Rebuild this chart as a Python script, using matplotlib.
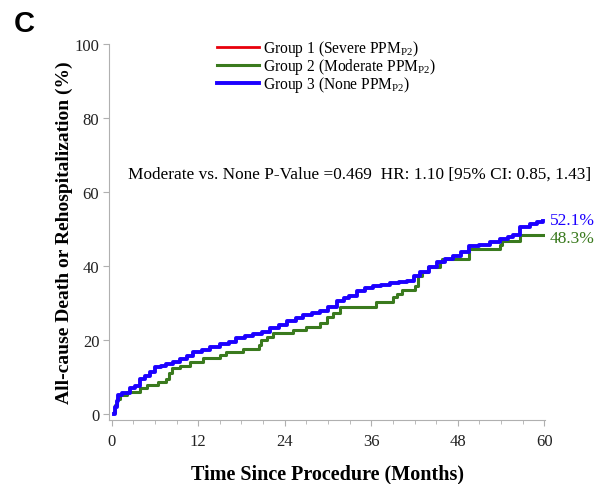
import matplotlib.pyplot as plt
from matplotlib.ticker import MultipleLocator

# Kaplan-Meier style cumulative incidence (%)
green_t = [0.3, 0.5, 0.8, 1.2, 2.1, 3.9, 4.9, 6.4, 7.6, 8.0, 8.3, 9.5, 10.9, 12.7,
           15.0, 15.9, 18.2, 20.4, 20.7, 21.5, 22.4, 25.1, 27.0, 28.9, 29.8, 30.7,
           31.7, 36.6, 39.0, 39.5, 40.2, 42.1, 42.5, 43.0, 43.9, 45.5, 45.8, 49.6,
           53.8, 54.1, 56.6, 60.0]
green_v = [0.5, 2.5, 4.0, 5.2, 6.0, 7.0, 7.8, 8.6, 9.5, 11.2, 12.4, 13.0, 14.2, 15.2,
           16.0, 16.7, 17.5, 18.8, 20.0, 20.8, 22.0, 22.6, 23.5, 24.5, 26.2, 27.4,
           29.0, 30.4, 31.6, 32.5, 33.6, 34.7, 37.4, 38.3, 39.7, 41.1, 42.0, 44.6,
           45.6, 46.8, 48.3, 48.3]

blue_t = [0.3, 0.5, 0.7, 0.9, 1.5, 2.5, 3.2, 3.9, 4.6, 5.3, 6.0, 6.8, 7.6, 8.5, 9.5,
          10.4, 11.3, 12.5, 13.7, 15.0, 16.3, 17.3, 18.5, 19.6, 20.8, 22.0, 23.2,
          24.3, 25.5, 26.6, 27.8, 28.9, 30.0, 31.2, 32.2, 32.9, 34.0, 35.1, 36.2,
          37.4, 38.6, 39.8, 40.9, 41.9, 42.8, 44.0, 45.1, 46.2, 47.4, 48.5, 49.6,
          51.0, 52.5, 53.8, 55.0, 55.7, 56.6, 58.0, 59.0, 59.8]
blue_v = [0.0, 2.0, 3.5, 5.1, 5.8, 7.0, 7.6, 9.5, 10.3, 11.3, 12.7, 13.0, 13.5, 14.2,
          14.9, 15.8, 16.7, 17.3, 18.0, 19.0, 19.5, 20.5, 21.0, 21.6, 22.3, 23.2,
          24.2, 25.2, 26.0, 26.8, 27.4, 27.9, 29.0, 30.6, 31.3, 32.0, 33.3, 34.0,
          34.6, 35.0, 35.4, 35.7, 36.0, 37.2, 38.3, 39.8, 41.0, 41.9, 42.6, 43.8,
          45.3, 45.8, 46.5, 47.3, 47.8, 48.3, 50.5, 51.4, 51.8, 52.1]

labels = ['Group 1 (Severe PPM$_{\\mathregular{P2}}$)',
          'Group 2 (Moderate PPM$_{\\mathregular{P2}}$)',
          'Group 3 (None PPM$_{\\mathregular{P2}}$)']

plt.rcParams['font.family'] = ['Liberation Serif', 'DejaVu Serif']
plt.rcParams['mathtext.fontset'] = 'custom'
plt.rcParams['mathtext.rm'] = 'Liberation Serif'

fig = plt.figure(figsize=(6.09, 4.85), dpi=100)
ax = fig.add_axes([0.179, 0.132, 0.716, 0.775])

red = '#e8000b'
green = '#3a7a1e'
blue = '#1c00ff'

ax.plot([], [], color=red, lw=2, label=labels[0])
ax.plot(green_t, green_v, color=green, lw=2.2, drawstyle='steps-post', label=labels[1])
ax.plot(blue_t, blue_v, color=blue, lw=2.8, drawstyle='steps-post', label=labels[2])

ax.set_xlim(-0.37, 60.1)
ax.set_ylim(-1.6, 100)
ax.xaxis.set_major_locator(MultipleLocator(12))
ax.xaxis.set_minor_locator(MultipleLocator(3))
ax.yaxis.set_major_locator(MultipleLocator(20))

for s in ['top', 'right']:
    ax.spines[s].set_visible(False)
for s in ['left', 'bottom']:
    ax.spines[s].set_color('#b0b0b0')
ax.tick_params(axis='both', which='both', colors='#b0b0b0', labelcolor='#222222',
               labelsize=12)
ax.tick_params(axis='x', which='major', length=4.5, pad=5)
ax.tick_params(axis='x', which='minor', length=3)
ax.tick_params(axis='y', length=4, pad=3)

ax.set_xlabel('Time Since Procedure (Months)', fontsize=14.5, fontweight='bold', labelpad=10)
ax.set_ylabel('All-cause Death or Rehospitalization (%)', fontsize=14, fontweight='bold',
              labelpad=1)

leg = ax.legend(loc='upper left', bbox_to_anchor=(0.215, 1.053), frameon=False,
                fontsize=11.2, handlelength=2.7, handletextpad=0.25, labelspacing=-0.12)

ax.text(2.26, 65, 'Moderate vs. None P-Value =0.469  HR: 1.10 [95% CI: 0.85, 1.43]',
        fontsize=12.4, va='center', ha='left', clip_on=False)
ax.text(60.8, blue_v[-1] + 0.4, '52.1%', color=blue, fontsize=12.5, va='center', clip_on=False)
ax.text(60.8, green_v[-1] - 0.8, '48.3%', color=green, fontsize=12.5, va='center', clip_on=False)

fig.text(0.022, 0.935, 'C', fontsize=21, fontweight='bold', family='Liberation Sans')

fig.savefig('out.png', dpi=100)
